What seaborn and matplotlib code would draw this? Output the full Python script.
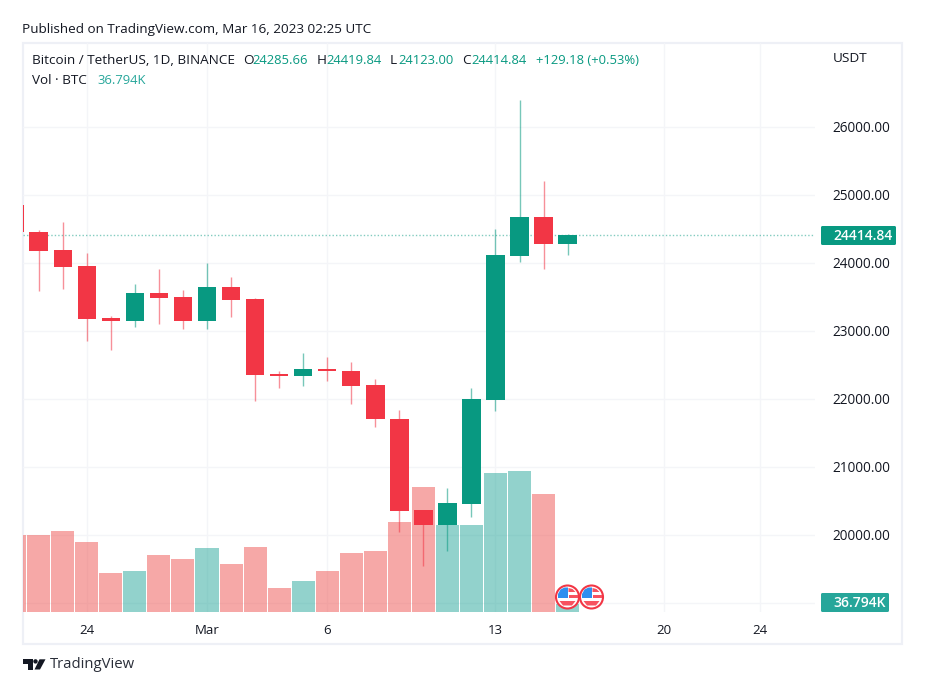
import matplotlib
matplotlib.use("Agg")
import matplotlib.pyplot as plt
from matplotlib.patches import Rectangle, Circle, Polygon, FancyBboxPatch
from matplotlib.transforms import Affine2D
import pandas as pd
import seaborn as sns

# days counted from Mar 1 2023
days = [-8, -7, -6, -5, -4, -3, -2, -1, 0, 1, 2, 3, 4, 5, 6, 7, 8, 9, 10, 11, 12, 13, 14, 15]
opens = [24853, 24460, 24186, 23951, 23191, 23147, 23563, 23500, 23143, 23643, 23471, 22363,
         22338, 22440, 22412, 22206, 21710, 20368, 20147, 20456, 21985, 24103, 24676, 24285.66]
highs = [24900, 24485, 24607, 24143, 23221, 23691, 23907, 23603, 23996, 23799, 23481, 22412,
         22676, 22618, 22544, 22294, 21838, 20368, 20687, 22162, 24500, 26397, 25206, 24419.84]
lows = [24400, 23593, 23618, 22857, 22721, 23063, 23107, 23025, 23025, 23210, 21975, 22162,
        22191, 22265, 21926, 21584, 20044, 19549, 19769, 20269, 21824, 24015, 23912, 24123.00]
closes = [24450, 24176, 23941, 23181, 23147, 23563, 23490, 23143, 23643, 23460, 22353, 22343,
          22437, 22412, 22191, 21701, 20357, 20147, 20466, 22000, 24118, 24676, 24280, 24414.84]
volumes = [377000, 377000, 396900, 343000, 191100, 200900, 279300, 259700, 313600, 235200,
           318500, 117600, 151900, 200900, 289100, 298900, 441000, 612500, 426300, 426300,
           681100, 690900, 578200, 36794]

price_ticks = [19000, 20000, 21000, 22000, 23000, 24000, 25000, 26000]
price_labels = ["", "20000.00", "21000.00", "22000.00", "23000.00", "24000.00", "25000.00", "26000.00"]
date_ticks = [-5, 0, 5, 12, 19, 23]
date_labels = ["24", "Mar", "6", "13", "20", "24"]

UP = "#089981"
DOWN = "#F23645"
VOL_UP = "#26A69A"
VOL_DOWN = "#EF5350"
INK = "#131722"
LINE = "#F4F5F8"
FRAME = "#EEF0F6"

sns.set_theme(style="white")
plt.rcParams["font.family"] = ["Open Sans", "DejaVu Sans"]

W, H = 930, 682
fig = plt.figure(figsize=(W / 100, H / 100), dpi=100, facecolor="white")
# pixel coords of the reference, y going down
PX = Affine2D().scale(1 / W, -1 / H).translate(0, 1) + fig.transFigure

L, R, T, B = 22.5, 815, 43, 611.5
rect = [L / W, 1 - B / H, (R - L) / W, (B - T) / H]
ax_grid = fig.add_axes(rect)
ax_vol = ax_grid.twinx()
ax = ax_grid.twinx()

df = pd.DataFrame({"day": days, "open": opens, "high": highs, "low": lows,
                   "close": closes, "vol": volumes})
df["up"] = df["close"] >= df["open"]
df["colour"] = df["up"].map({True: "up", False: "down"})

sns.barplot(data=df, x="day", y="vol", hue="colour", native_scale=True, dodge=False,
            palette={"up": VOL_UP, "down": VOL_DOWN}, width=0.96, alpha=0.5, saturation=1,
            legend=False, ax=ax_vol, linewidth=0, errorbar=None)

for up, colour in [(True, UP), (False, DOWN)]:
    part = df[df["up"] == up]
    ax.vlines(part["day"], part["low"], part["high"], color=colour, lw=1, alpha=0.55, zorder=2)
    ax.bar(part["day"], (part["close"] - part["open"]).abs(),
           bottom=part[["open", "close"]].min(axis=1), width=0.77, color=colour,
           linewidth=0, zorder=3)

ax.axhline(closes[-1], color=UP, lw=1, ls=(0, (1, 1.5)), alpha=0.5, zorder=1)

xlim = ((L - 207) / 24.04, (R - 207) / 24.04)
p_per_px = 1000 / 68
ylim = (26000 - (B - 127) * p_per_px, 26000 + (127 - T) * p_per_px)
for a in (ax_grid, ax_vol, ax):
    a.set_xlim(xlim)
    a.patch.set_visible(False)
    a.set_xlabel("")
    a.set_ylabel("")
    for s in a.spines.values():
        s.set_visible(False)
ax_grid.set_ylim(ylim)
ax.set_ylim(ylim)
ax_vol.set_ylim(0, (B - T) * 4900)
ax_vol.set_yticks([])

ax_grid.set_yticks(price_ticks)
ax_grid.set_yticklabels([])
ax_grid.set_xticks(date_ticks)
ax_grid.set_xticklabels(date_labels, fontsize=9.5, color=INK)
ax_grid.tick_params(axis="both", length=0)
ax_grid.tick_params(axis="x", pad=9)
ax_grid.grid(True, color=LINE, lw=1)
ax_grid.set_axisbelow(True)

ax.set_yticks(price_ticks)
ax.set_yticklabels(price_labels, fontsize=9.8, color=INK)
ax.tick_params(axis="y", length=0, pad=12.5)


def px_text(x, y, s, color=INK, size=9.7, **kw):
    fig.text(x, y, s, transform=PX, color=color, fontsize=size, va="center", zorder=6, **kw)


def px_add(patch, z=4):
    patch.set_transform(PX)
    patch.set_zorder(z)
    fig.add_artist(patch)


# chart frame, under the axes so the cut off first candle still shows
px_add(Rectangle((22.5, 43), 879.5, 601, fill=False, edgecolor=FRAME, lw=1.6), z=-1)

px_text(22, 29, "Published on TradingView.com, Mar 16, 2023 02:25 UTC")
px_text(32, 61, "Bitcoin / TetherUS, 1D, BINANCE")
for x, s in [(243, "O"), (317, "H"), (390, "L"), (462, "C")]:
    px_text(x, 61, s)
for x, s in [(252.5, "24285.66"), (326, "24419.84"), (398.5, "24123.00"), (471, "24414.84"),
             (536, "+129.18 (+0.53%)")]:
    px_text(x, 61, s, color=UP, size=9.4)
px_text(32, 80, "Vol · BTC")
px_text(97.5, 80, "36.794K", color=VOL_UP, size=9.4)
px_text(833, 58, "USDT")

# last value tags
px_add(FancyBboxPatch((821, 226), 75, 19, boxstyle="round,pad=0,rounding_size=1.5",
                      facecolor=UP, edgecolor="none"))
px_text(833.5, 235.5, "24414.84", color="white", weight="semibold", size=10)
px_add(FancyBboxPatch((821, 593), 68, 19, boxstyle="round,pad=0,rounding_size=1.5",
                      facecolor=VOL_UP, edgecolor="none"))
px_text(833.5, 603, "36.794K", color="white", weight="semibold", size=10)


def flag(cx, cy):
    px_add(Circle((cx, cy), 11.5, facecolor="white", edgecolor="#F23645", lw=1.5))
    px_add(Rectangle((cx + 1, cy - 2.5), 9, 3.5, facecolor="#F7525F", edgecolor="none"), z=5)
    px_add(Polygon([(cx - 8, cy + 4), (cx + 8, cy + 4), (cx + 4.5, cy + 8.5), (cx - 4.5, cy + 8.5)],
                   facecolor="#F7525F", edgecolor="none"), z=5)
    px_add(Polygon([(cx + 1, cy - 9), (cx + 5, cy - 8), (cx + 8, cy - 5), (cx + 1, cy - 5)],
                   facecolor="#F7525F", edgecolor="none"), z=5)
    px_add(Polygon([(cx - 9.5, cy + 1), (cx - 9.5, cy - 3), (cx - 7, cy - 7.5), (cx - 3, cy - 9.5),
                    (cx + 0.5, cy - 9.5), (cx + 0.5, cy + 1)], facecolor="#2E8FEF", edgecolor="none"), z=5)


flag(567.5, 597)
flag(591.5, 597)

# TradingView logo
px_add(Polygon([(22.5, 659.3), (32.5, 659.3), (32.5, 669.5), (27.5, 669.5), (27.5, 663.5), (22.5, 663.5)],
               facecolor=INK, edgecolor="none"))
px_add(Circle((35.5, 661.4), 2.2, facecolor=INK, edgecolor="none"))
px_add(Polygon([(39.5, 659.3), (45.5, 659.3), (40, 669.5), (34.5, 669.5)],
               facecolor=INK, edgecolor="none"))
px_text(50, 665, "TradingView", size=10.7, color="#2A2E39")

fig.savefig("out.png", dpi=100)
